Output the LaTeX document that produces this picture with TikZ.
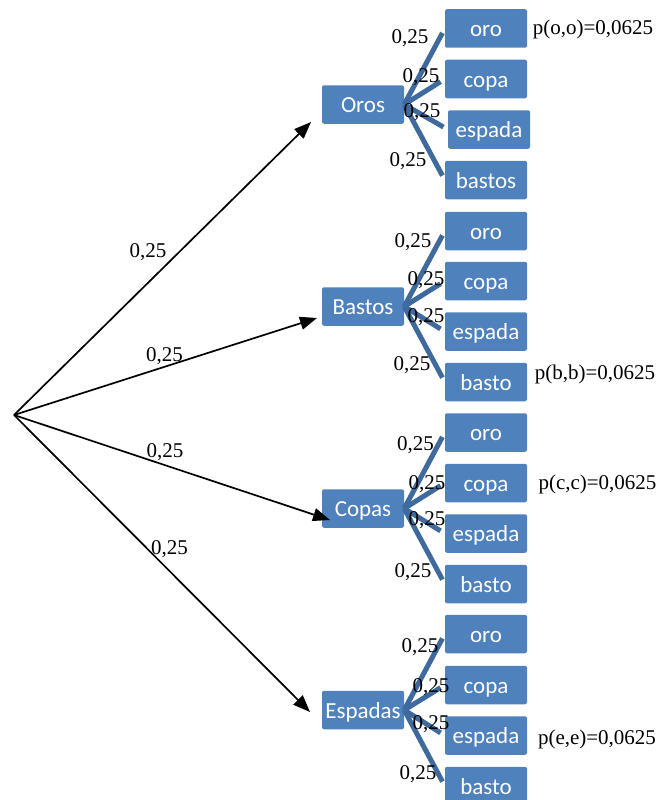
\documentclass[tikz,border=0pt]{standalone}
\usepackage{fontspec}
\setmainfont{Liberation Serif}
\newfontfamily\boxfont{Carlito}
\usetikzlibrary{arrows.meta}
\definecolor{boxblue}{HTML}{4F81BD}
\definecolor{linkblue}{HTML}{3F6A9E}
\begin{document}
\begin{tikzpicture}[x=1pt,y=-1pt,
  box/.style={rectangle, rounded corners=2pt, fill=boxblue, minimum width=82pt,
    minimum height=38.5pt, inner sep=0pt, text=white, text height=16pt, text depth=0pt,
    font=\boxfont\fontsize{23}{23}\selectfont},
  lbl/.style={inner sep=0pt, text=black, text height=14pt, text depth=0pt,
    font=\fontsize{21}{21}\selectfont},
  link/.style={draw=linkblue, line width=5pt, shorten >=5pt},
  arr/.style={line width=1.7pt, -{Triangle[length=17pt,width=13pt]}}]
\useasboundingbox (0,0) rectangle (659,800);

% root and arrow tips
\coordinate (root) at (14,415);
\coordinate (t0) at (311,122);
\coordinate (t1) at (317,318);
\coordinate (t2) at (330,520);
\coordinate (t3) at (310,712);

% first level
\node[box] (P0) at (363,104.5) {Oros};
\node[box] (P1) at (363,306.5) {Bastos};
\node[box] (P2) at (363,508.5) {Copas};
\node[box] (P3) at (363,710) {Espadas};

% second level
\node[box] (A0) at (486,28.5) {oro};
\node[box] (B0) at (486,79) {copa};
\node[box] (C0) at (489,129.5) {espada};
\node[box] (D0) at (486,180) {bastos};

\node[box] (A1) at (486,231) {oro};
\node[box] (B1) at (486,281) {copa};
\node[box] (C1) at (486,331.5) {espada};
\node[box] (D1) at (486,382) {basto};

\node[box] (A2) at (486,432.5) {oro};
\node[box] (B2) at (486,483) {copa};
\node[box] (C2) at (486,533.5) {espada};
\node[box] (D2) at (486,584) {basto};

\node[box] (A3) at (486,634) {oro};
\node[box] (B3) at (486,685) {copa};
\node[box] (C3) at (486,735.5) {espada};
\node[box] (D3) at (486,786) {basto};

% thick connectors
\foreach \g in {0,1,2,3}{
  \foreach \c in {A,B,C,D}{
    \draw[link] (P\g.east) -- (\c\g.west);
  }
}

% arrows
\draw[arr] (root) -- (t0);
\draw[arr] (root) -- (t1);
\draw[arr] (root) -- (t2);
\draw[arr] (root) -- (t3);

% big labels
\node[lbl] (L0) at (148,250) {0,25};
\node[lbl] (L1) at (164.5,354) {0,25};
\node[lbl] (L2) at (165,450) {0,25};
\node[lbl] (L3) at (169.5,547) {0,25};

% small labels
\node[lbl] (a0) at (410,37) {0,25};
\node[lbl] (b0) at (421,75) {0,25};
\node[lbl] (c0) at (422,110) {0,25};
\node[lbl] (d0) at (408,159) {0,25};

\node[lbl] (a1) at (413,240) {0,25};
\node[lbl] (b1) at (426,278) {0,25};
\node[lbl] (c1) at (426,315) {0,25};
\node[lbl] (d1) at (412,363) {0,25};

\node[lbl] (a2) at (415.5,443) {0,25};
\node[lbl] (b2) at (427,482) {0,25};
\node[lbl] (c2) at (427,518) {0,25};
\node[lbl] (d2) at (413,570) {0,25};

\node[lbl] (a3) at (420,645) {0,25};
\node[lbl] (b3) at (431,685) {0,25};
\node[lbl] (c3) at (431,722) {0,25};
\node[lbl] (d3) at (418,772) {0,25};

% probabilities
\node[lbl] (p0) at (593,28) {p(o,o)=0,0625};
\node[lbl] (p1) at (595,372) {p(b,b)=0,0625};
\node[lbl] (p2) at (597.5,482) {p(c,c)=0,0625};
\node[lbl] (p3) at (597,737) {p(e,e)=0,0625};
\end{tikzpicture}
\end{document}
